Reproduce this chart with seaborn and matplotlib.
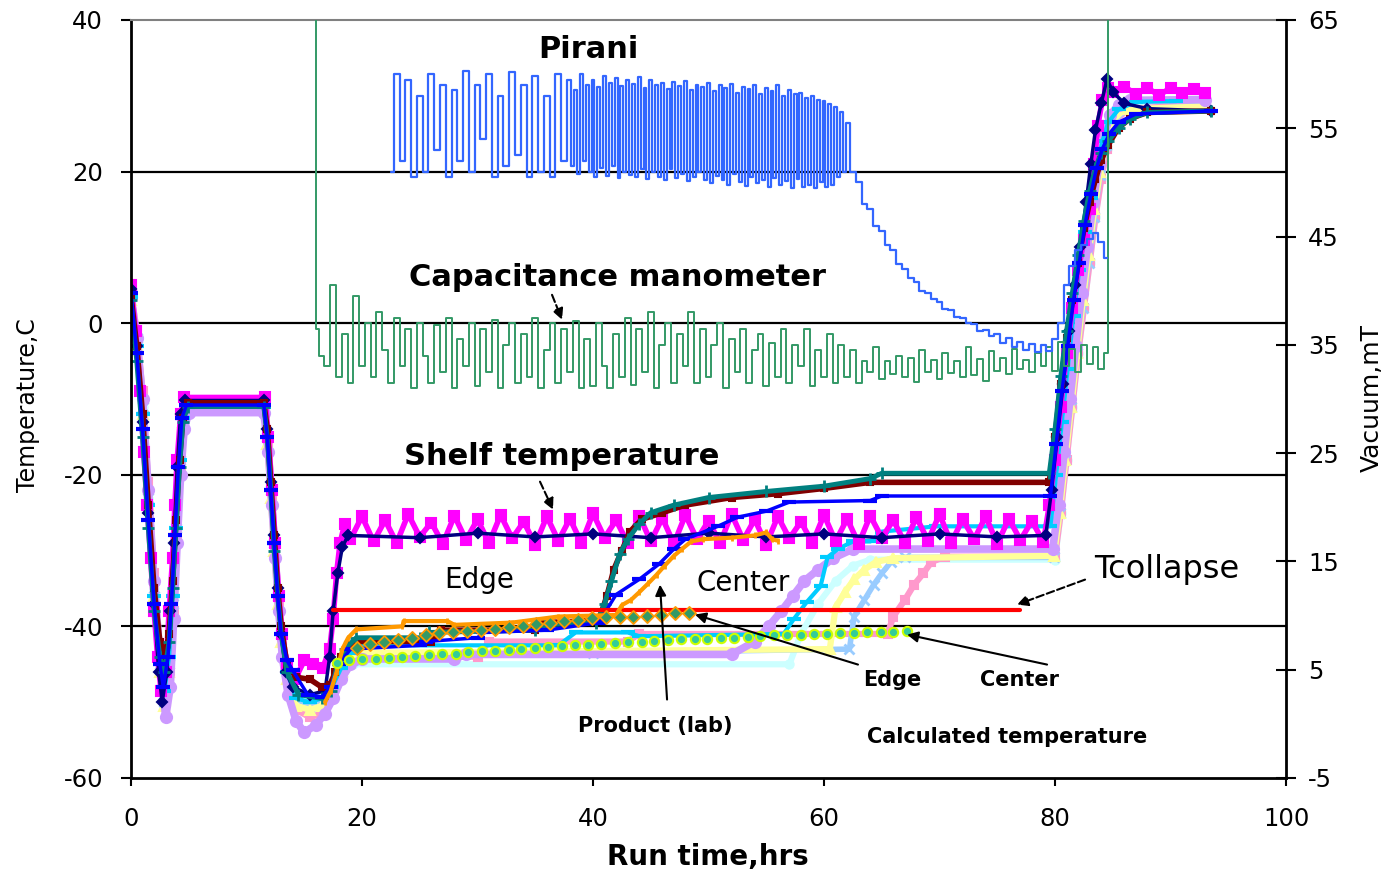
import matplotlib
matplotlib.use("Agg")
import matplotlib.pyplot as plt
import seaborn as sns

# ---------------- data (time in hours, temperature in C, vacuum in mT) ----------------
x_ticks = [0, 20, 40, 60, 80, 100]
temp_ticks = [-60, -40, -20, 0, 20, 40]
vac_ticks = [-5, 5, 15, 25, 35, 45, 55, 65]
temp_grid = [-40, -20, 0, 20]

shelf = [(0, 5), (0.4, -1), (0.8, -9), (1.1, -17), (1.4, -24), (1.7, -31), (2.0, -38), (2.3, -44),
         (2.6, -48.5), (3.0, -46), (3.3, -38), (3.6, -31), (3.8, -24), (4.0, -18), (4.3, -12), (4.6, -9.8),
         (11.6, -9.8), (11.9, -15), (12.2, -22), (12.5, -29), (12.8, -36), (13.1, -41), (13.5, -45),
         (14.2, -47), (15.0, -44.5), (15.8, -45), (16.6, -45.5), (17.2, -43), (17.5, -39), (17.8, -33),
         (18.1, -29), (18.5, -26.5),
         (19, -28.5), (20, -25.5), (21, -28.8), (22, -26), (23, -29), (24, -25.2), (25, -28.2), (26, -26.3),
         (27, -29.1), (28, -25.4), (29, -28.6), (30, -25.9), (31, -29), (32, -25.3), (33, -28.4), (34, -26.2),
         (35, -29.2), (36, -25.5), (37, -28.7), (38, -25.8), (39, -29), (40, -25.1), (41, -28.3), (42, -26),
         (43, -29), (44, -25.4), (45, -28.8), (46, -25.7), (47, -29.1), (48, -25.3), (49, -28.5), (50, -26.1),
         (51, -29), (52, -25.2), (53, -28.6), (54, -25.9), (55, -29.2), (56, -25.5), (57, -28.4), (58, -26.2),
         (59, -29), (60, -25.3), (61, -28.8), (62, -25.8), (63, -29.1), (64, -25.4), (65, -28.3), (66, -26),
         (67, -29), (68, -25.6), (69, -28.7), (70, -25.2), (71, -29), (72, -25.9), (73, -28.5), (74, -25.5),
         (75, -29.1), (76, -25.8), (77, -28.6), (78, -26.1), (79, -28.9),
         (79.5, -24), (80, -18), (80.5, -11), (81, -4), (81.5, 2), (82, 7), (82.5, 11), (83, 15), (83.4, 21),
         (83.7, 26), (84.1, 29.5), (84.6, 31), (85, 30.5), (86, 31.2), (87, 30.2), (88, 31), (89, 30.1),
         (90, 31), (91, 30.3), (92, 30.9), (93, 30.4)]

navy = [(0, 4.5), (0.5, -3), (1.0, -13), (1.5, -25), (2.0, -37), (2.4, -46), (2.7, -50), (3.1, -46), (3.4, -38),
        (3.7, -29), (4.0, -19), (4.3, -12), (4.7, -10.2), (11.5, -10.2), (11.8, -14), (12.1, -21), (12.4, -28),
        (12.7, -35), (13.0, -41), (13.4, -46), (14.0, -48), (15.5, -49), (16.8, -48.5), (17.2, -44), (17.5, -38),
        (17.9, -33), (18.3, -29.5), (18.8, -28), (25, -28.3), (30, -27.7), (35, -28.2), (40, -27.8), (45, -28.3),
        (50, -27.7), (55, -28.2), (60, -27.8), (65, -28.3), (70, -27.8), (75, -28.2), (79.2, -28), (79.7, -22),
        (80.2, -15), (80.7, -8), (81.2, -1), (81.7, 5), (82.2, 10), (82.7, 16), (83.1, 21), (83.5, 25.5),
        (84.0, 29), (84.5, 32.2), (85.0, 30.5), (86.0, 29), (88.0, 28.3), (93.5, 28)]

maroon = [(0, 3.5), (0.5, -3), (1.0, -12), (1.5, -24), (2.0, -35), (2.5, -42), (2.9, -44), (3.3, -41), (3.6, -34),
          (3.9, -26), (4.2, -18), (4.5, -12.5), (4.9, -10.5), (11.5, -10.5), (11.8, -14), (12.1, -21), (12.4, -28),
          (12.7, -35), (13.0, -40), (13.5, -45), (14.3, -46.7), (15.5, -47), (16.5, -48), (17.2, -47.8),
          (17.7, -46), (18.2, -44), (18.8, -42.5), (19.5, -42), (26, -42), (26.8, -40.5), (35, -40.5),
          (35.8, -39.5), (40.5, -39.2), (41.2, -36), (41.8, -32.5), (42.5, -30), (43.2, -27.5), (44.2, -25.9),
          (46, -25), (48, -24), (52, -23), (56, -22.5), (60, -21.8), (64, -21), (79.5, -21), (80, -15),
          (80.5, -8), (81, -2), (81.5, 3), (82, 8), (82.5, 12.5), (83, 16), (83.5, 19), (84, 21.5),
          (84.6, 23.5), (85.5, 25.8), (86.5, 27), (88, 27.8), (93.5, 28)]

teal = [(0, 3), (0.5, -5), (1.0, -15), (1.5, -27), (2.0, -38), (2.5, -44), (2.9, -46), (3.3, -42), (3.6, -35),
        (3.9, -27), (4.2, -19), (4.5, -13), (4.9, -11), (11.5, -11), (11.8, -15), (12.1, -22), (12.4, -30),
        (12.7, -36), (13.0, -41), (13.5, -46), (14.5, -49), (16.5, -49.5), (17.3, -48.5), (17.9, -45),
        (18.5, -43), (19.5, -41.5), (25, -41.5), (25.8, -40.8), (35, -40.5), (35.8, -39.8), (40.3, -39.5),
        (41.0, -37), (41.6, -34), (42.3, -30.5), (43, -28.5), (44, -26.5), (45, -25), (47, -24), (50, -23),
        (55, -22.2), (60, -21.5), (64, -20.5), (65, -19.8), (79.5, -19.8), (80, -14), (80.5, -7), (81, -1),
        (81.5, 4), (82, 9), (82.5, 13.5), (83, 17.5), (83.5, 20.5), (84, 22.5), (84.6, 24), (85.5, 25.8),
        (86.5, 27), (88, 27.8), (93.5, 28)]

blue = [(0, 4), (0.5, -4), (1.0, -14), (1.5, -26), (2.0, -37), (2.5, -45), (2.8, -48), (3.2, -44), (3.5, -37),
        (3.8, -28), (4.1, -19), (4.4, -12.5), (4.8, -10.8), (11.5, -10.8), (11.8, -15), (12.1, -22),
        (12.4, -29), (12.7, -36), (13.0, -41), (13.5, -44.5), (14.0, -45.8), (15.3, -49), (16.5, -49.3),
        (17.3, -48), (18.0, -45), (19.0, -43), (25, -42.5), (25.5, -42), (30, -41.5), (30.5, -40.8),
        (36, -40.5), (40.5, -39.5), (42, -35.8), (44, -33.8), (45.7, -31.8), (47, -29.8), (48, -28.5),
        (50.8, -26.8), (52.5, -25.6), (55, -24.8), (57, -23.6), (64, -23.4), (65, -22.8), (79.6, -22.8),
        (80.1, -16), (80.6, -9), (81.1, -3), (81.6, 3), (82.1, 8), (82.6, 13), (83.1, 17), (83.6, 20.5),
        (84.1, 23), (84.7, 25), (85.5, 26.5), (87, 27.6), (93.5, 28)]

lavender = [(0, 3.5), (0.5, -2), (1.0, -10), (1.5, -22), (2.0, -34), (2.5, -44), (3.0, -52), (3.4, -48),
            (3.7, -39), (4.0, -29), (4.3, -20), (4.6, -14), (5.0, -11.8), (11.5, -11.8), (11.9, -17),
            (12.2, -24), (12.5, -31), (12.8, -38), (13.1, -44), (13.6, -49), (14.3, -52.5), (15.0, -54),
            (16.0, -53), (16.8, -51.5), (17.5, -49.5), (18.2, -47), (19.0, -45), (20, -44.3), (28, -44.3),
            (29, -43.7), (52, -43.7), (54, -42), (55.2, -40), (56.3, -38), (57.3, -36), (58.3, -34),
            (59.5, -32.5), (60.8, -31), (62.5, -29.8), (79.8, -29.8), (80.3, -24), (80.8, -17), (81.3, -10),
            (81.8, -3), (82.3, 4), (82.8, 10), (83.3, 16), (83.8, 21), (84.3, 25), (84.8, 27.5), (85.5, 28.8),
            (86.5, 29.4), (93, 29.5)]

yellow = [(0, 3), (0.5, -3), (1.0, -12), (1.5, -24), (2.0, -36), (2.5, -46), (2.9, -50.5), (3.3, -46),
          (3.6, -38), (3.9, -28), (4.2, -19), (4.5, -13), (5.0, -11.3), (11.5, -11.3), (11.8, -16),
          (12.1, -23), (12.4, -30), (12.7, -37), (13.0, -42), (13.5, -47), (14.3, -50.5), (15.5, -51),
          (16.5, -50.5), (17.5, -48.5), (18.3, -46), (19.2, -44), (20, -43.5), (60.5, -43), (61.0, -37.5),
          (61.8, -35.5), (62.6, -33.8), (63.5, -32.5), (64.5, -31.5), (66, -31), (79.9, -30.7), (80.4, -25),
          (80.9, -18), (81.4, -11), (81.9, -4), (82.4, 3), (82.9, 9), (83.4, 15), (83.9, 20), (84.4, 24),
          (85, 26.8), (86, 28.2), (93, 28.6)]

lightblue = [(0, 3.8), (0.5, -2), (1.0, -11), (1.5, -23), (2.0, -35), (2.5, -45), (2.9, -50), (3.3, -45),
             (3.6, -37), (3.9, -27), (4.2, -18), (4.5, -12.5), (5.0, -11), (11.5, -11), (11.8, -15),
             (12.1, -22), (12.4, -29), (12.7, -36), (13.0, -41), (13.5, -46), (14.3, -49.5), (15.5, -50.5),
             (16.5, -50), (17.5, -48), (18.3, -46), (19.2, -44.5), (20, -44), (40, -43.5), (62.2, -43),
             (62.6, -38.7), (63.5, -36.5), (64.3, -34.5), (65.0, -33), (65.8, -31.5), (67, -30.9),
             (79.9, -30.9), (80.4, -25), (80.9, -18), (81.4, -11), (81.9, -4), (82.4, 2), (82.9, 8),
             (83.4, 14), (83.9, 19.5), (84.4, 23.5), (85, 26.5), (86, 28), (93, 28.8)]

pink = [(0, 4), (0.5, -1), (1.0, -9), (1.5, -21), (2.0, -33), (2.5, -43), (3.0, -50), (3.4, -46), (3.7, -38),
        (4.0, -28), (4.3, -19), (4.6, -13), (5.0, -11.5), (11.5, -11.5), (11.9, -16), (12.2, -23), (12.5, -30),
        (12.8, -37), (13.1, -42), (13.6, -47), (14.3, -51), (15.5, -52), (16.5, -51.5), (17.4, -49.5),
        (18.2, -47), (19.0, -45), (20, -44), (30, -44), (31, -42), (43, -42), (44, -41), (65.5, -41),
        (66.0, -38.7), (67.0, -36.5), (67.8, -34.5), (68.6, -33), (69.3, -31.5), (70.5, -30.8), (80.0, -30.8),
        (80.5, -25), (81.0, -18), (81.5, -11), (82.0, -4), (82.5, 2), (83.0, 8), (83.5, 14), (84.0, 19),
        (84.5, 23), (85.2, 26.5), (86.2, 28.2), (93, 29)]

cyan = [(0, 3.5), (0.5, -3), (1.0, -12), (1.5, -24), (2.0, -36), (2.5, -45), (2.9, -48.5), (3.3, -44),
        (3.6, -36), (3.9, -27), (4.2, -18), (4.5, -12.5), (4.9, -11), (11.5, -11), (11.8, -15), (12.1, -22),
        (12.4, -29), (12.7, -36), (13.0, -41), (13.5, -46), (14.3, -49.5), (15.5, -50), (16.5, -49.5),
        (17.4, -48), (18.2, -45.5), (19.0, -43.5), (20, -42.5), (37, -42.5), (38.5, -40.8), (43, -40.8),
        (44, -41.3), (56.5, -41), (57.4, -39), (58.5, -36.8), (59.7, -34.7), (60.3, -30.9), (61.2, -29.8),
        (62.5, -28.8), (64, -28.8), (65, -27.5), (69.7, -26.8), (79.6, -26.8), (80.1, -20), (80.6, -13),
        (81.1, -6), (81.6, 1), (82.1, 7), (82.6, 12), (83.1, 16.5), (83.6, 20.5), (84.1, 24), (84.6, 26.5),
        (85.5, 28.2), (87, 29.2), (90.5, 29.3)]

palecyan = [(0, 3), (0.5, -2.5), (1.0, -11), (1.5, -23), (2.0, -35), (2.5, -44), (2.9, -48), (3.3, -44),
            (3.6, -36), (3.9, -27), (4.2, -18), (4.5, -12.5), (5.0, -11.2), (11.5, -11.2), (11.8, -15),
            (12.1, -22), (12.4, -29), (12.7, -36), (13.0, -41), (13.5, -46), (14.3, -49), (15.5, -50),
            (16.5, -49.5), (17.5, -47.5), (18.3, -46), (19.2, -45), (57, -45), (58, -41), (59.5, -37),
            (61, -34), (62.5, -32), (64, -31.2), (80, -31.2), (80.5, -25), (81, -18), (81.5, -11), (82, -4),
            (82.5, 2), (83, 8), (83.5, 14), (84, 19), (84.5, 23), (85.2, 26.5), (86.2, 28.4), (93, 29.2)]

product_lab = [(16.8, -50), (17.3, -48.5), (17.8, -46), (18.3, -43), (18.8, -41.5), (19.5, -40.4), (23.5, -40),
               (23.6, -39.3), (27.4, -39.3), (28, -39.8), (33, -39.5), (37, -38.7), (42, -38.5), (42.5, -37.2),
               (43.3, -36.5), (44, -35.5), (44.8, -34.3), (45.5, -33.2), (46.2, -32), (47, -30.7), (47.7, -29.8),
               (48.5, -28.8), (49.5, -28.5), (52, -28.3), (54, -28), (55, -27.6), (55.5, -28.5), (56, -28.7)]

t_collapse = [(17.5, -37.8), (77, -37.8)]

calc_edge = [(19.6, -42.8), (20.7, -42.3), (21.9, -42), (23.1, -41.8), (24.3, -41.5), (25.5, -41.2),
             (26.7, -40.9), (27.9, -40.8), (29.1, -40.6), (30.3, -40.5), (31.5, -40.3), (32.7, -40.1),
             (33.9, -39.9), (35.1, -39.7), (36.3, -39.5), (37.5, -39.3), (38.7, -39.1), (39.9, -38.9),
             (41.1, -38.8), (42.3, -38.7), (43.5, -38.7), (44.7, -38.6), (45.9, -38.5), (47.1, -38.3),
             (48.3, -38.2)]

calc_center = [(17.8, -44.8), (18.9, -44.4), (20.0, -44.3), (21.2, -44.3), (22.3, -44.2), (23.5, -44.1),
               (24.6, -43.9), (25.8, -43.8), (26.9, -43.7), (28.1, -43.6), (29.2, -43.4), (30.4, -43.3),
               (31.5, -43.2), (32.7, -43.1), (33.8, -43.0), (35.0, -42.8), (36.1, -42.7), (37.3, -42.6),
               (38.4, -42.5), (39.6, -42.4), (40.7, -42.3), (41.9, -42.2), (43.0, -42.1), (44.2, -42.0),
               (45.3, -41.9), (46.5, -41.8), (47.6, -41.7), (48.8, -41.7), (49.9, -41.6), (51.1, -41.5),
               (52.2, -41.5), (53.4, -41.4), (54.5, -41.3), (55.7, -41.2), (56.8, -41.2), (58.0, -41.1),
               (59.1, -41.0), (60.3, -41.0), (61.4, -40.9), (62.6, -40.9), (63.7, -40.8), (64.9, -40.8),
               (66.0, -40.7), (67.2, -40.6)]

pirani = [(22.5, 51), (23, 60), (23.5, 52), (24, 59.5), (24.5, 50.5), (25, 58), (25.5, 51), (26, 60), (26.5, 53),
          (27, 59), (27.5, 50.5), (28, 58.5), (28.5, 52), (29, 60.3), (29.5, 51), (30, 59), (30.5, 54), (31, 60),
          (31.5, 50.5), (32, 58), (32.5, 51.5), (33, 60.2), (33.5, 52.5), (34, 59), (34.5, 50.5), (35, 59.8),
          (35.5, 51), (36, 58), (36.5, 50.5), (37, 60), (37.5, 52),
          (38, 59.5), (38.25, 51.5), (38.5, 58.5), (38.75, 50.8), (39, 60), (39.25, 52), (39.5, 59), (39.75, 51),
          (40, 59.5), (40.25, 50.5), (40.5, 58.8), (40.75, 51.3), (41, 59.8), (41.25, 50.6), (41.5, 59.2),
          (41.75, 51.5), (42, 59.6), (42.25, 50.4), (42.5, 58.9), (42.75, 51), (43, 59.5), (43.25, 50.7),
          (43.5, 59.1), (43.75, 50.5), (44, 59.7), (44.25, 51.2), (44.5, 58.7), (44.75, 50.3), (45, 59.5),
          (45.25, 51), (45.5, 59), (45.75, 50.5), (46, 59.2), (46.25, 50.2), (46.5, 58.6), (46.75, 51.2),
          (47, 59.3), (47.25, 50.4), (47.5, 58.9), (47.75, 50.8), (48, 59.4), (48.25, 50.1), (48.5, 58.5),
          (48.75, 50.5), (49, 59), (49.25, 51), (49.5, 58.8), (49.75, 50.2), (50, 59.2), (50.25, 49.9),
          (50.5, 58.4), (50.75, 50.6), (51, 59), (51.25, 50.2), (51.5, 58.7), (51.75, 49.8), (52, 59.1),
          (52.25, 50.8), (52.5, 58.3), (52.75, 50), (53, 58.8), (53.25, 49.7), (53.5, 58.6), (53.75, 50.5),
          (54, 59), (54.25, 49.9), (54.5, 58.2), (54.75, 50.2), (55, 58.7), (55.25, 49.6), (55.5, 58.4),
          (55.75, 50.4), (56, 59), (56.25, 49.8), (56.5, 58), (56.75, 50.1), (57, 58.5), (57.25, 49.5),
          (57.5, 58.2), (57.75, 50.3), (58, 58.3), (58.25, 49.6), (58.5, 57.8), (58.75, 49.8), (59, 58),
          (59.25, 49.5), (59.5, 57.6), (59.75, 50), (60, 57.5), (60.25, 49.6), (60.5, 57.2), (60.75, 49.8),
          (61, 57), (61.25, 50.5), (61.5, 56.5), (61.75, 51), (62, 55.5),
          (62.5, 51), (63, 50), (63.5, 48), (64, 47.5), (64.5, 46), (65, 45.5), (65.5, 44.2), (66, 43.8),
          (66.5, 42.5), (67, 42), (67.5, 41.2), (68, 40.8), (68.5, 40), (69, 39.8), (69.5, 39.2), (70, 39),
          (70.5, 38.3), (71, 38.2), (71.5, 37.6), (72, 37.5), (72.5, 37), (73, 36.9), (73.5, 36.3), (74, 36.4),
          (74.5, 35.8), (75, 36), (75.5, 35.2), (76, 35.6), (76.5, 34.8), (77, 35.3), (77.5, 34.5), (78, 35.1),
          (78.5, 34.3), (79, 35), (79.5, 34.4), (80, 35.5), (80.5, 37), (81, 40.5), (81.5, 42.3), (82, 43.8),
          (82.5, 44.2), (83, 44.8), (83.5, 45.3), (84, 44.5), (84.5, 43)]

cap_manometer = [(16, 70), (16.05, 36.5), (16.5, 34), (17, 33), (17.5, 40.5), (18, 32), (18.5, 36), (19, 31.5),
                 (19.5, 39.5), (20, 33), (20.5, 37), (21, 32), (21.5, 38), (22, 34.5), (22.5, 31.5), (23, 37.5),
                 (23.5, 33), (24, 36.5), (24.5, 31), (25, 37), (25.5, 34), (26, 31.5), (26.5, 36.8), (27, 32.5),
                 (27.5, 37.5), (28, 31), (28.5, 35.5), (29, 33), (29.5, 37), (30, 31.2), (30.5, 36.5), (31, 32.5),
                 (31.5, 37.3), (32, 31), (32.5, 35), (33, 37), (33.5, 31.5), (34, 36), (34.5, 32), (35, 37.5),
                 (35.5, 31), (36, 34.5), (36.5, 37), (37, 31.5), (37.5, 36.5), (38, 32.5), (38.5, 37.2), (39, 31),
                 (39.5, 35.5), (40, 31.2), (40.5, 37), (41, 33), (41.5, 31), (42, 36), (42.5, 32), (43, 37.5),
                 (43.5, 31.3), (44, 36.5), (44.5, 32.5), (45, 38), (45.5, 31), (46, 35), (46.5, 37), (47, 31.5),
                 (47.5, 36), (48, 33), (48.5, 38), (49, 31.5), (49.5, 36.5), (50, 32), (50.5, 35), (51, 37),
                 (51.5, 31), (52, 35.5), (52.5, 32.5), (53, 36.5), (53.5, 31.5), (54, 34.5), (54.5, 36), (55, 31.2),
                 (55.5, 35.2), (56, 32), (56.5, 36.5), (57, 31.5), (57.5, 35), (58, 33), (58.5, 36.5), (59, 31.2),
                 (59.5, 34.5), (60, 32), (60.5, 36), (61, 31.5), (61.5, 35), (62, 32), (62.5, 34.5), (63, 31.5),
                 (63.5, 33.5), (64, 32.5), (64.5, 34.8), (65, 31.8), (65.5, 33.5), (66, 32.3), (66.5, 34), (67, 32),
                 (67.5, 33.8), (68, 31.6), (68.5, 34.5), (69, 32.5), (69.5, 33.6), (70, 31.8), (70.5, 34.2),
                 (71, 32.4), (71.5, 33.5), (72, 32), (72.5, 34.8), (73, 32.2), (73.5, 33.7), (74, 31.7), (74.5, 34.4),
                 (75, 32.6), (75.5, 33.8), (76, 32.3), (76.5, 34.6), (77, 32.8), (77.5, 33.6), (78, 32.5),
                 (78.5, 34.2), (79, 33), (79.5, 34.8), (80, 32.6), (80.5, 35.3), (81, 33), (81.5, 34.6), (82, 32.5),
                 (82.5, 35), (83, 33.2), (83.5, 34.8), (84, 32.8), (84.5, 34.2), (84.6, 70)]

# ---------------- figure ----------------
sns.set_theme(style="ticks")
plt.rcParams["font.family"] = ["DejaVu Sans"]
plt.rcParams["axes.unicode_minus"] = False
for k in ["text.color", "axes.labelcolor", "xtick.color", "ytick.color", "axes.edgecolor"]:
    plt.rcParams[k] = "black"

fig = plt.figure(figsize=(13.95, 8.76), dpi=100)
ax = fig.add_axes([0.0939, 0.1119, 0.828, 0.8653])
ax2 = ax.twinx()


def split(pairs):
    return [p[0] for p in pairs], [p[1] for p in pairs]


def draw(axis, pairs, color, marker=None, ms=6, lw=4.0, mew=1.5, mfc=None, zorder=2, ls="-", ds="default"):
    t, v = split(pairs)
    kw = dict(x=t, y=v, ax=axis, color=color, linewidth=lw, sort=False, estimator=None,
              legend=False, zorder=zorder, linestyle=ls, drawstyle=ds)
    if marker is not None:
        kw.update(marker=marker, markersize=ms, markeredgecolor=color,
                  markerfacecolor=mfc if mfc else color, markeredgewidth=mew)
    sns.lineplot(**kw)


for gv in temp_grid:
    ax.axhline(gv, color="black", lw=1.6, zorder=1)

# temperature probes (pale first, strong last)
draw(ax, palecyan, "#CCFFFF", "o", 6, lw=4.5)
draw(ax, pink, "#FF99CC", "s", 6, lw=4.5)
draw(ax, lightblue, "#99CCFF", "x", 7, lw=4, mew=2)
draw(ax, yellow, "#FFFF99", "^", 7, lw=4.5)
draw(ax, lavender, "#CC99FF", "o", 8, lw=5.5)
draw(ax, cyan, "#00CCFF", "_", 10, lw=3, mew=3)
draw(ax, shelf, "#FF00FF", "s", 7, lw=4)
draw(ax, navy, "#000080", "D", 5, lw=2.5)
draw(ax, maroon, "#800000", "s", 5, lw=4)
draw(ax, teal, "#008080", "+", 8, lw=3.5, mew=2)
draw(ax, blue, "#0000FF", "_", 10, lw=2.5, mew=3)
draw(ax, t_collapse, "#FF0000", None, lw=3, zorder=3)
draw(ax, product_lab, "#FF9900", "|", 5, lw=3, mew=2, zorder=4)

te, ve = split(calc_edge)
sns.scatterplot(x=te, y=ve, ax=ax, marker="D", s=45, color="#339966", edgecolor="#FF9900",
                linewidth=1.3, legend=False, zorder=5)
tc, vc = split(calc_center)
sns.scatterplot(x=tc, y=vc, ax=ax, marker="o", s=45, color="#33CC99", edgecolor="#CCFF00",
                linewidth=1.5, legend=False, zorder=5)

# vacuum traces
draw(ax2, cap_manometer, "#339966", None, lw=1.4, ds="steps-mid")
draw(ax2, pirani, "#3366FF", None, lw=1.6, ds="steps-mid")

# ---------------- axes formatting ----------------
ax.set_xlim(0, 100)
ax.set_ylim(-60, 40)
ax.set_xticks(x_ticks)
ax.set_yticks(temp_ticks)
ax2.set_ylim(-5, 65)
ax2.set_yticks(vac_ticks)
ax.set_xlabel("")
ax.set_ylabel("")
ax2.set_ylabel("")

ax.tick_params(axis="y", direction="out", length=7, width=1.5, pad=13, labelsize=17.5, left=True, right=False)
ax.tick_params(axis="x", direction="out", length=6, width=1.5, pad=15, labelsize=17.5, bottom=True)
ax2.tick_params(axis="y", direction="inout", length=14, width=1.5, pad=9, labelsize=17.5, right=True, left=False)

for s in ["left", "bottom"]:
    ax.spines[s].set_color("black")
    ax.spines[s].set_linewidth(2)
ax.spines["top"].set_color("#808080")
ax.spines["top"].set_linewidth(1.5)
ax.spines["right"].set_visible(False)
for s in ["top", "left", "bottom"]:
    ax2.spines[s].set_visible(False)
ax2.spines["right"].set_color("black")
ax2.spines["right"].set_linewidth(2)

fig.text(28 / 1395, 1 - 405 / 876, "Temperature,C", rotation=90, ha="center", va="center", fontsize=17)
fig.text(1372 / 1395, 1 - 398 / 876, "Vacuum,mT", rotation=90, ha="center", va="center", fontsize=18)
fig.text(708 / 1395, 1 - 857 / 876, "Run time,hrs", ha="center", va="center", fontsize=20, fontweight="bold")

# ---------------- annotations ----------------
bold = dict(fontweight="bold", ha="center", va="center")
ax.text(39.57, 36.04, "Pirani", fontsize=22, **bold)
ax.text(42.16, 5.99, "Capacitance manometer", fontsize=22, **bold)
ax.text(37.32, -17.61, "Shelf temperature", fontsize=22, **bold)
ax.text(30.13, -33.83, "Edge", fontsize=20, ha="center", va="center")
ax.text(52.99, -34.23, "Center", fontsize=20, ha="center", va="center")
ax.text(89.70, -32.51, "Tcollapse", fontsize=23, ha="center", va="center")
ax.text(65.89, -47.01, "Edge", fontsize=15, **bold)
ax.text(76.88, -47.01, "Center", fontsize=15, **bold)
ax.text(45.37, -53.08, "Product (lab)", fontsize=15, **bold)
ax.text(75.84, -54.66, "Calculated temperature", fontsize=15, **bold)


def arrow(tail, head, ls="-"):
    ax.annotate("", xy=head, xytext=tail,
                arrowprops=dict(arrowstyle="-|>", color="black", lw=1.5, linestyle=ls,
                                mutation_scale=16, shrinkA=0, shrinkB=0), zorder=6)


arrow((36.45, 3.74), (37.32, 0.45), "--")
arrow((35.41, -20.91), (36.54, -24.60), "--")
arrow((82.60, -33.83), (76.71, -37.13), "--")
arrow((62.94, -45.04), (48.83, -38.44))
arrow((79.31, -45.04), (67.19, -41.08))
arrow((46.41, -49.65), (45.80, -34.49))

fig.savefig("out.png", dpi=100)
